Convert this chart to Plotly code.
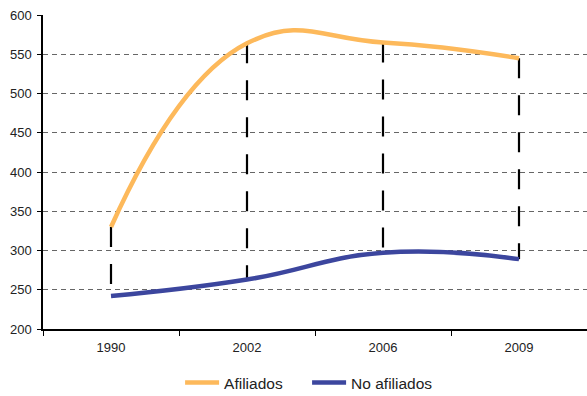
import plotly.graph_objects as go

years = ["1990", "2002", "2006", "2009"]
afiliados = [330, 564, 565, 545]
no_afiliados = [242, 263, 297, 289]

fig = go.Figure()

# vertical dashed drop lines between the two series
drop_x, drop_y = [], []
for yr, top, bottom in zip(years, afiliados, no_afiliados):
    drop_x += [yr, yr, None]
    drop_y += [top, bottom, None]
fig.add_trace(go.Scatter(
    x=drop_x, y=drop_y, mode='lines', showlegend=False, hoverinfo='skip',
    line=dict(color='black', width=2.2, dash='20px,17px')
))

fig.add_trace(go.Scatter(
    x=years, y=afiliados, mode='lines', name='Afiliados',
    line=dict(color='#FDB95B', width=4.5, shape='spline', smoothing=1.3)
))
fig.add_trace(go.Scatter(
    x=years, y=no_afiliados, mode='lines', name='No afiliados',
    line=dict(color='#3C469E', width=4.5, shape='spline', smoothing=1.3)
))

fig.update_layout(
    width=587, height=396,
    margin=dict(l=43, r=0, t=15, b=67, autoexpand=False),
    paper_bgcolor='white', plot_bgcolor='white',
    font=dict(family='Liberation Sans, Arial, sans-serif', size=13, color='#222'),
    showlegend=True,
    legend=dict(orientation='h', x=0.252, xanchor='left', y=-0.172, yanchor='middle',
                font=dict(size=15.5), itemwidth=34, tracegroupgap=0,
                entrywidth=78, entrywidthmode='pixels'),
    xaxis=dict(
        type='category', tickson='boundaries', showline=True, linecolor='black',
        linewidth=1.5, ticks='outside', ticklen=5, tickcolor='black', automargin=False,
        showgrid=False, tickfont=dict(size=13), range=[-0.5, 3.5], ticklabelstandoff=6
    ),
    yaxis=dict(
        range=[200, 600], dtick=50, showline=True, linecolor='black', linewidth=1.5,
        ticks='outside', ticklen=4, tickcolor='black', zeroline=False, automargin=False,
        showgrid=True, gridcolor='#666', gridwidth=1, griddash='5px,4px',
        tickfont=dict(size=13), ticklabelstandoff=3
    ),
)

fig.write_html("out.html", config={'displayModeBar': False},
               post_script="document.body.style.margin='0';")
